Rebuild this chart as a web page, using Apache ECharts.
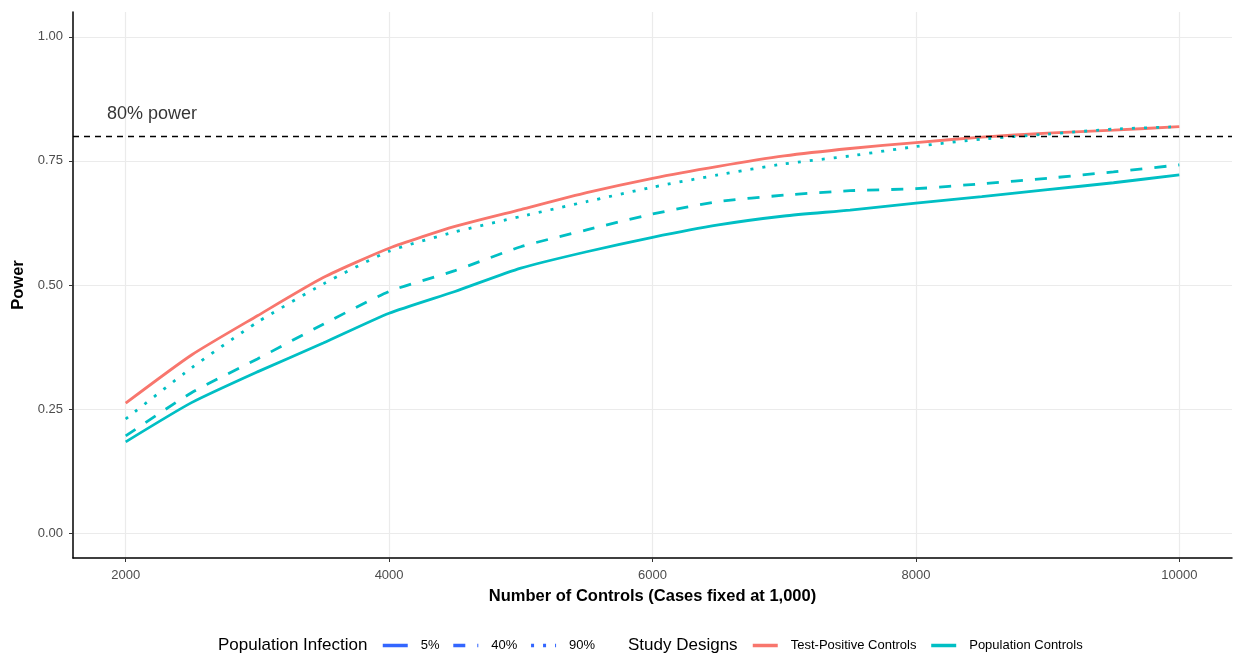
<!DOCTYPE html>
<html>
<head>
<meta charset="utf-8">
<script src="https://cdn.jsdelivr.net/npm/echarts@6/dist/echarts.min.js"></script>
<style>
  html, body { margin: 0; padding: 0; background: #fff; }
  #chart { width: 1238px; height: 656px; }
</style>
</head>
<body>
<div id="chart"></div>
<script>
// ---- Data ----
const controls = [2000, 2500, 3000, 3500, 4000, 4500, 5000, 5500, 6000, 6500, 7000, 7500, 8000, 8500, 9000, 9500, 10000];
const testPositive = [0.262, 0.359, 0.438, 0.515, 0.574, 0.618, 0.652, 0.686, 0.715, 0.739, 0.760, 0.775, 0.787, 0.798, 0.806, 0.812, 0.819];
const popInf5  = [0.184, 0.263, 0.325, 0.383, 0.443, 0.487, 0.534, 0.567, 0.596, 0.621, 0.639, 0.651, 0.665, 0.678, 0.692, 0.706, 0.722];
const popInf40 = [0.196, 0.283, 0.351, 0.421, 0.487, 0.529, 0.577, 0.611, 0.643, 0.668, 0.681, 0.690, 0.694, 0.704, 0.715, 0.728, 0.742];
const popInf90 = [0.230, 0.333, 0.425, 0.502, 0.568, 0.607, 0.638, 0.668, 0.697, 0.722, 0.744, 0.760, 0.779, 0.794, 0.804, 0.814, 0.819];
const xTickValues = [2000, 4000, 6000, 8000, 10000];
const yTickValues = [0, 0.25, 0.5, 0.75, 1.0];
const powerThreshold = 0.8;
const annotationText = '80% power';
const annotationPos = [2200, 0.845];
const infectionLevels = ['5%', '40%', '90%'];
const designNames = ['Test-Positive Controls', 'Population Controls'];

// ---- Styles ----
const RED = '#F8766D', CYAN = '#00BFC4', BLUE = '#3366FF';
const FONT = "'Liberation Sans', Arial, sans-serif";
const LW = 2.8;
const SMOOTH = 0.2;
const dashTypes = { '5%': 'solid', '40%': [12, 12], '90%': [3, 9] };

const pairs = arr => controls.map((x, i) => [x, arr[i]]);

const series = [
  {
    name: designNames[0], type: 'line', data: pairs(testPositive),
    symbol: 'none', color: RED, smooth: SMOOTH,
    lineStyle: { color: RED, width: LW, type: 'solid' },
    markLine: {
      silent: true, symbol: 'none', label: { show: false },
      lineStyle: { color: '#000', width: 1.4, type: [6, 5] },
      data: [{ yAxis: powerThreshold }]
    },
    z: 2
  },
  {
    name: designNames[1], type: 'line', data: pairs(popInf5),
    symbol: 'none', color: CYAN, smooth: SMOOTH,
    lineStyle: { color: CYAN, width: LW, type: dashTypes['5%'] }, z: 3
  },
  {
    name: designNames[1], type: 'line', data: pairs(popInf40),
    symbol: 'none', color: CYAN, smooth: SMOOTH,
    lineStyle: { color: CYAN, width: LW, type: dashTypes['40%'], cap: 'butt' }, z: 3
  },
  {
    name: designNames[1], type: 'line', data: pairs(popInf90),
    symbol: 'none', color: CYAN, smooth: SMOOTH,
    lineStyle: { color: CYAN, width: LW, type: dashTypes['90%'], cap: 'butt' }, z: 3
  },
  // legend-only series for Population Infection
  ...infectionLevels.map(lvl => ({
    name: lvl, type: 'line', data: [], symbol: 'none', color: BLUE,
    lineStyle: { color: BLUE, width: 3.5, type: dashTypes[lvl] }
  })),
  {
    name: 'annotation', type: 'scatter', data: [annotationPos],
    symbolSize: 0, silent: true,
    label: {
      show: true, position: 'inside', formatter: annotationText,
      fontSize: 18, color: '#000', fontFamily: FONT
    }
  }
];

const legendCommon = {
  top: 639, orient: 'horizontal', padding: 0,
  itemWidth: 25, itemHeight: 14, selectedMode: false,
  itemStyle: { opacity: 0 },
  lineStyle: { width: 3.5 },
  textStyle: { fontSize: 13, color: '#000', fontFamily: FONT, padding: [0, 0, 0, 8] }
};

const chart = echarts.init(document.getElementById('chart'), null, { renderer: 'canvas' });
chart.setOption({
  animation: false,
  backgroundColor: '#fff',
  textStyle: { fontFamily: FONT },
  grid: { left: 73, right: 6, top: 12, bottom: 98, containLabel: false },
  xAxis: {
    type: 'value', min: 1600, max: 10400,
    name: 'Number of Controls (Cases fixed at 1,000)',
    nameLocation: 'middle', nameGap: 30,
    nameTextStyle: { fontSize: 16.5, fontWeight: 'bold', color: '#000', fontFamily: FONT },
    axisLine: { show: true, onZero: false, lineStyle: { color: '#000', width: 1.5 } },
    axisTick: { show: true, length: 4, customValues: xTickValues, lineStyle: { color: '#333', width: 1 } },
    axisLabel: {
      customValues: xTickValues, margin: 11, fontSize: 13, color: '#4D4D4D', fontFamily: FONT,
      formatter: v => String(v)
    },
    splitLine: { show: true, lineStyle: { color: '#EBEBEB', width: 1.2 } }
  },
  yAxis: {
    type: 'value', min: -0.05, max: 1.05,
    name: 'Power', nameLocation: 'middle', nameGap: 42, nameRotate: 90,
    nameTextStyle: { fontSize: 16.5, fontWeight: 'bold', color: '#000', fontFamily: FONT },
    axisLine: { show: true, onZero: false, lineStyle: { color: '#000', width: 1.5 } },
    axisTick: { show: true, length: 4, customValues: yTickValues, lineStyle: { color: '#333', width: 1 } },
    axisLabel: {
      customValues: yTickValues, margin: 10, fontSize: 13, color: '#4D4D4D', fontFamily: FONT,
      formatter: v => v.toFixed(2)
    },
    splitLine: { show: true, lineStyle: { color: '#EBEBEB', width: 1.2 } }
  },
  legend: [
    Object.assign({}, legendCommon, { data: infectionLevels, left: 381, itemGap: 12 }),
    Object.assign({}, legendCommon, { data: designNames, left: 751, itemGap: 13 })
  ],
  graphic: [
    { type: 'text', left: 218, top: 637, style: { text: 'Population Infection', fontSize: 17, fill: '#000', fontFamily: FONT } },
    { type: 'text', left: 628, top: 637, style: { text: 'Study Designs', fontSize: 17, fill: '#000', fontFamily: FONT } }
  ],
  series: series
});
</script>
</body>
</html>
